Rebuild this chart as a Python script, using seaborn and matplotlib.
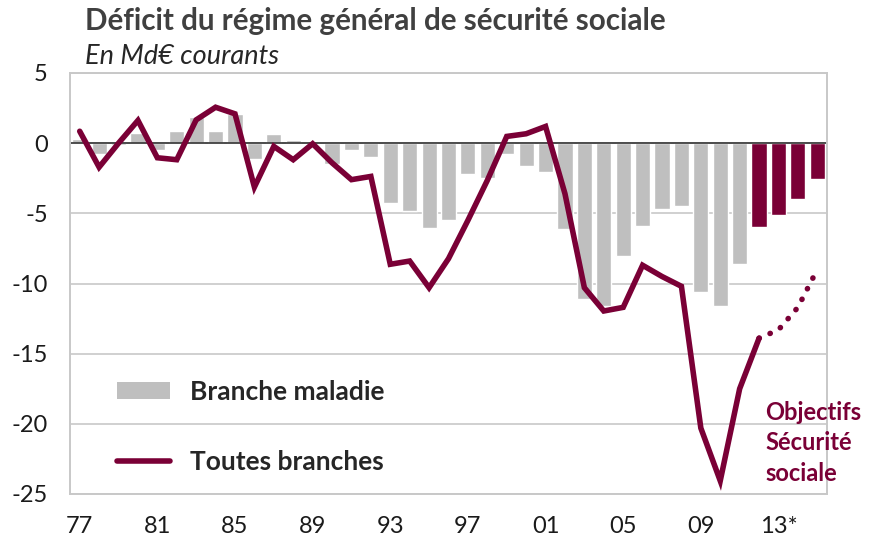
import numpy as np
import pandas as pd
import matplotlib
matplotlib.use("Agg")
import matplotlib.pyplot as plt
import seaborn as sns
from matplotlib.patches import Patch
from matplotlib.lines import Line2D

# =========================================================
# DATA
# =========================================================

years = list(range(1977, 2016))

# Branche maladie (grey = réalisé, 2012-2015 = objectifs)
maladie = [
    0.3, -0.75, -0.1, 0.7, -0.5, 0.9, 1.9, 0.9, 2.05, -1.16,
    0.67, 0.24, 0.0, -1.47, -0.52, -0.99, -4.24, -4.84, -6.07, -5.5,
    -2.23, -2.47, -0.76, -1.66, -2.09, -6.1, -11.1, -11.6, -8.04, -5.93,
    -4.67, -4.48, -10.6, -11.62, -8.59, -5.98, -5.1, -3.96, -2.54
]

# Toutes branches 1977-2012
toutes = [
    0.85, -1.71, 0.0, 1.62, -1.04, -1.18, 1.66, 2.56, 2.09, -3.13,
    -0.23, -1.18, -0.04, -1.4, -2.6, -2.37, -8.63, -8.4, -10.3, -8.23,
    -5.5, -2.65, 0.48, 0.67, 1.19, -3.6, -10.3, -11.96, -11.7, -8.7,
    -9.5, -10.2, -20.3, -24.06, -17.5, -13.9
]

# Objectifs Sécurité sociale 2012-2015
objectif_years = [2012, 2013, 2014, 2015]
objectifs = [-13.9, -13.3, -11.7, -9.0]

tick_years = [1977, 1981, 1985, 1989, 1993, 1997, 2001, 2005, 2009, 2013]
tick_labels = ["77", "81", "85", "89", "93", "97", "01", "05", "09", "13*"]

GREY = "#BFBFBF"
MAROON = "#7A0036"
TEXT = "#404040"

# =========================================================
# FRAMES
# =========================================================

bars_df = pd.DataFrame({
    "year": years,
    "value": maladie,
    "groupe": ["hist" if y < 2012 else "obj" for y in years],
})
bars_df["pos"] = bars_df["year"] - 1977

line_df = pd.DataFrame({
    "pos": [y - 1977 for y in years[:len(toutes)]],
    "value": toutes,
})

obj_df = pd.DataFrame({
    "pos": [y - 1977 for y in objectif_years],
    "value": objectifs,
})

# =========================================================
# PLOT
# =========================================================

sns.set_theme(style="white")
plt.rcParams["font.family"] = ["Lato", "DejaVu Sans"]

fig = plt.figure(figsize=(8.69, 5.4), dpi=100)
ax = fig.add_axes([70 / 869, 46 / 540, 757 / 869, 421 / 540])

sns.barplot(
    data=bars_df,
    x="pos",
    y="value",
    hue="groupe",
    palette={"hist": GREY, "obj": MAROON},
    dodge=False,
    width=0.78,
    native_scale=True,
    legend=False,
    ax=ax,
    saturation=1,
)

ax.axhline(0, color="#404040", lw=1.3, zorder=2)

sns.lineplot(
    data=line_df,
    x="pos",
    y="value",
    color=MAROON,
    lw=4.0,
    ax=ax,
    zorder=4,
    solid_joinstyle="miter",
)

sns.lineplot(
    data=obj_df,
    x="pos",
    y="value",
    color=MAROON,
    lw=4.0,
    ax=ax,
    zorder=4,
    dashes=False,
)
ax.lines[-1].set_linestyle((0, (0.05, 2.1)))
ax.lines[-1].set_dash_capstyle("round")

# ================= AXES =================

ax.set_xlim(-0.5, len(years) - 0.5)
ax.set_ylim(-25, 5)
ax.set_yticks([5, 0, -5, -10, -15, -20, -25])
ax.set_yticklabels(["5", "0", "-5", "-10", "-15", "-20", "-25"])
ax.set_xticks([y - 1977 for y in tick_years])
ax.set_xticklabels(tick_labels)
ax.tick_params(axis="both", length=0, labelsize=17, colors="#1a1a1a")
ax.tick_params(axis="x", pad=16)
ax.tick_params(axis="y", pad=16)
ax.set_xlabel("")
ax.set_ylabel("")

ax.grid(axis="y", color="#D0D0D0", lw=1.4, zorder=0)
ax.set_axisbelow(True)
for s in ax.spines.values():
    s.set_visible(True)
    s.set_color("#C8C8C8")
    s.set_linewidth(1.4)

# ================= LEGEND =================

handles = [
    Patch(facecolor=GREY, edgecolor="none"),
    Line2D([0], [0], color=MAROON, lw=4.0, solid_capstyle="round"),
]
leg = ax.legend(
    handles,
    ["Branche maladie", "Toutes branches"],
    loc="center left",
    bbox_to_anchor=(0.031, 0.159),
    frameon=False,
    handlelength=2.0,
    handleheight=0.6,
    handletextpad=0.75,
    labelspacing=1.74,
    prop={"weight": "bold", "size": 19},
)
for t in leg.get_texts():
    t.set_color("#262626")

# ================= TEXT =================

fig.text(85 / 869, 1 - 21 / 540, "Déficit du régime général de sécurité sociale",
         fontsize=21.3, fontweight="bold", color=TEXT, va="center", ha="left")
fig.text(85 / 869, 1 - 57 / 540, "En Md€ courants",
         fontsize=19.5, fontstyle="italic", color="#262626", va="center", ha="left")

ax.text(765 / 869, 1 - 443 / 540, "Objectifs\nSécurité\nsociale",
        transform=fig.transFigure, fontsize=17, fontweight="bold",
        color=MAROON, va="center", ha="left", linespacing=1.4)

fig.savefig("out.png", dpi=100)
